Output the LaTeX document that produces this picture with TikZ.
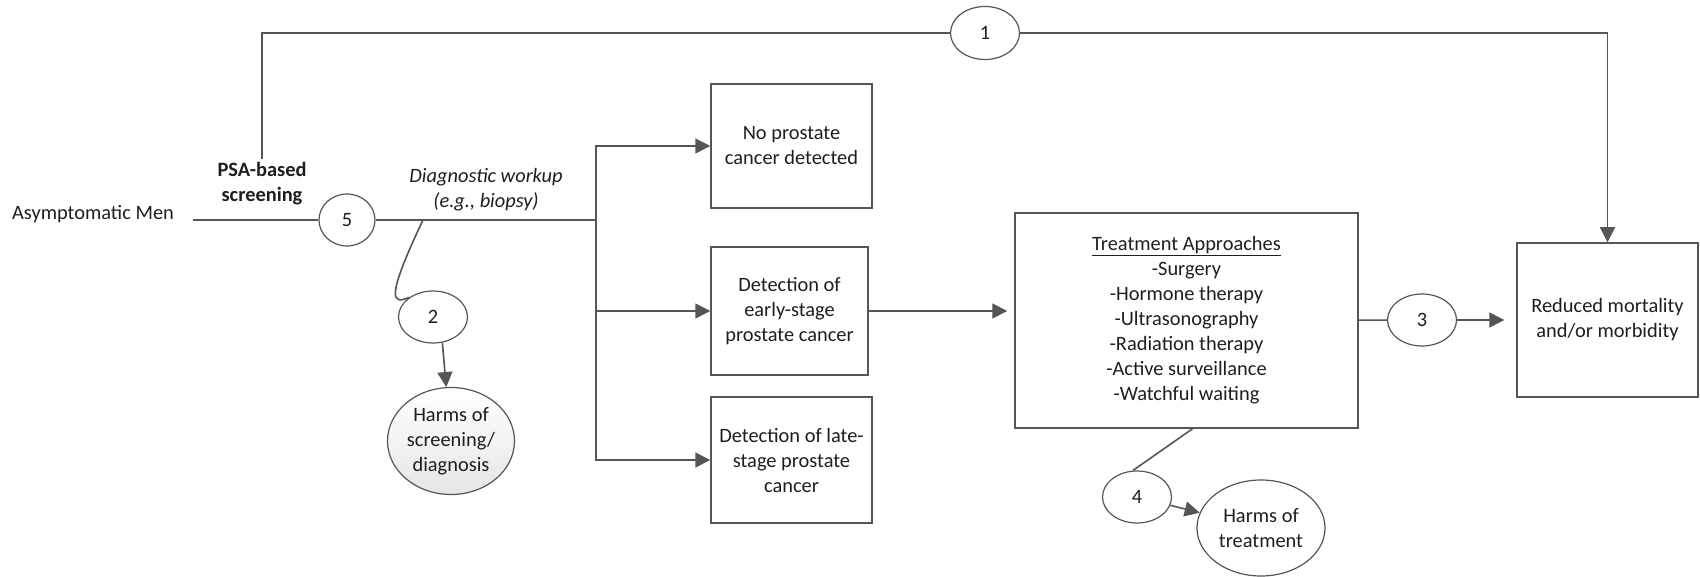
\documentclass[tikz,border=0pt]{standalone}
\usepackage{fontspec}
\setmainfont{Carlito}
\usetikzlibrary{shapes.geometric, arrows.meta}

\definecolor{linegray}{RGB}{85,85,85}
\definecolor{headgray}{RGB}{60,60,60}
\definecolor{txtgray}{RGB}{30,30,30}

\tikzset{
  box/.style={draw=linegray, line width=1.5pt, align=center, inner sep=2pt},
  num/.style={ellipse, draw=linegray, line width=1.2pt, minimum width=69pt, minimum height=52pt, inner sep=0pt},
  harm/.style={ellipse, draw=linegray, line width=1.2pt, align=center, inner sep=0pt},
  link/.style={draw=linegray, line width=1.6pt},
  arr/.style={-{Triangle[length=15pt,width=15pt]}}
}

\begin{document}
\begin{tikzpicture}[x=1pt,y=1pt,yscale=-1,
  every node/.style={font=\fontsize{20.4}{25}\selectfont, text=txtgray}]
\useasboundingbox (0,0) rectangle (1700,577);

% Text Node
\node (men) at (93,214) {Asymptomatic Men};
% Text Node
\node[font=\fontsize{20.4}{25}\selectfont\bfseries, align=center] (psa) at (262,184) {PSA-based\\screening};
% Text Node
\node[font=\fontsize{20.4}{25}\selectfont\itshape, align=center] (dx) at (486,190) {Diagnostic workup\\(e.g., biopsy)};

%Shape: Ellipse
\node[num, minimum width=56pt] (c5) at (347,220) {5};
\node[num, minimum height=53pt] (c1) at (985,33) {1};
\node[num] (c2) at (433,317) {2};
\node[num] (c3) at (1422,320) {3};
\node[num] (c4) at (1137,497) {4};

%Shape: Square
\node[box, minimum width=161pt, minimum height=124pt] (nobox) at (791.5,146) {No prostate\\cancer detected};
\node[box, minimum width=157pt, minimum height=128pt] (early) at (789.5,311) {Detection of\\early-stage\\prostate cancer};
\node[box, minimum width=161pt, minimum height=126pt] (late) at (791.5,460) {Detection of late-\\stage prostate\\cancer};
\node[box, minimum width=343pt, minimum height=215pt] (treat) at (1186.5,320.5) {\underline{Treatment Approaches}\\-Surgery\\-Hormone therapy\\-Ultrasonography\\-Radiation therapy\\-Active surveillance\\-Watchful waiting};
\node[box, minimum width=181pt, minimum height=154pt] (red) at (1607.5,320) {Reduced mortality\\and/or morbidity};

% Harms
\node[harm, minimum width=127pt, minimum height=107pt, top color=white, bottom color=gray!20] (hscr) at (451,441) {Harms of\\screening/\\diagnosis};
\node[harm, minimum width=128pt, minimum height=96pt] (htrt) at (1261,528) {Harms of\\treatment};

\coordinate (start) at (193,220);
\coordinate (split) at (423,220);
\coordinate (fork) at (596,220);

%Straight Lines
\draw[link] (start) -- (c5);
\draw[link] (c5) -- (fork);
\draw[link, arr] (fork) |- (nobox);
\draw[link, arr] (fork) |- (early);
\draw[link, arr] (fork) |- (late);
\draw[link] (psa) |- (c1);
\draw[link, arr] (c1) -| (red);
\draw[link, arr, shorten >=7pt] (early) -- (early -| treat.west);
\draw[link] (treat) -- (c3);
\draw[link, arr, shorten >=12pt] (c3) -- (red);
%Curve Lines
\draw[link] (split) .. controls (385,300) and (392,305) .. (c2.140);
\draw[link, arr] (c2.-70) -- (hscr);
\draw[link] ([xshift=6pt]treat.south) -- ([xshift=-4pt]c4.north);
\draw[link, arr] (c4) -- (htrt);

\end{tikzpicture}
\end{document}
